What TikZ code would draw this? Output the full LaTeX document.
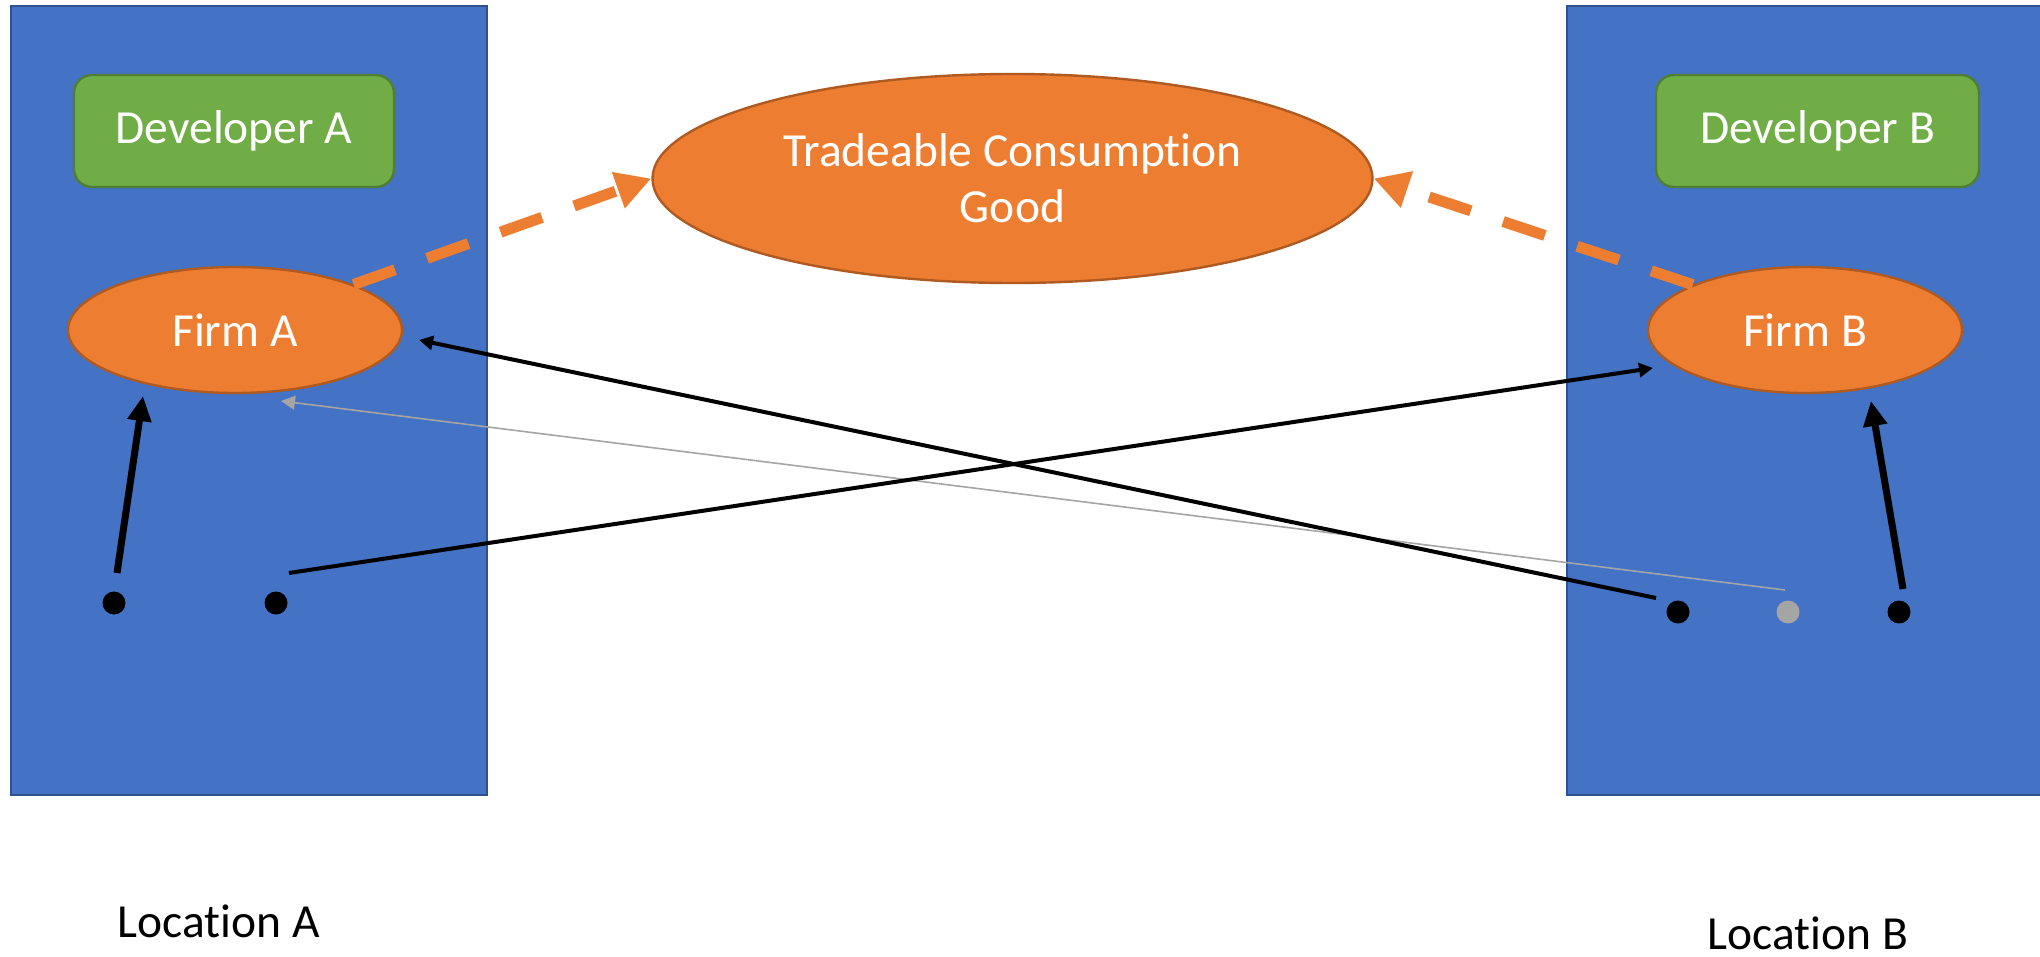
\documentclass[tikz,border=0pt]{standalone}
\usepackage{fontspec}
\setmainfont{Carlito}[Ligatures=NoCommon]
\usetikzlibrary{shapes.geometric,arrows.meta}
\definecolor{locblue}{HTML}{4472C4}
\definecolor{locedge}{HTML}{2F528F}
\definecolor{devgreen}{HTML}{70AD47}
\definecolor{devedge}{HTML}{507E32}
\definecolor{firmorange}{HTML}{ED7D31}
\definecolor{firmedge}{HTML}{AE5A21}
\definecolor{dotgray}{HTML}{A5A5A5}
\tikzset{
  txt/.style={font=\fontsize{23.75}{28}\selectfont},
  locbox/.style={draw=locedge, line width=1pt, fill=locblue, rectangle, inner sep=0pt, minimum height=394.25pt},
  devbox/.style={txt, draw=devedge, line width=1.2pt, fill=devgreen, rounded corners=9pt, text=white, inner sep=0pt, minimum height=56pt},
  firmnode/.style={txt, ellipse, draw=firmedge, line width=1.2pt, fill=firmorange, text=white, inner sep=0pt},
  dotnode/.style={circle, fill=#1, inner sep=0pt, minimum size=11.5pt},
  dashlink/.style={draw=firmorange, line width=5.5pt, dash pattern=on 22pt off 17pt, -{Triangle[length=17.5pt, width=18pt]}},
  thinlink/.style={draw=black, line width=2pt, -{Triangle[length=7pt, width=7pt]}},
  thicklink/.style={draw=black, line width=3.5pt, -{Triangle[length=12.5pt, width=11.5pt]}},
  graylink/.style={draw=dotgray, line width=0.8pt, -{Triangle[length=7pt, width=7pt]}},
}
\begin{document}
\begin{tikzpicture}[x=0.5pt, y=-0.5pt]
\useasboundingbox (0,0) rectangle (2040,957);
\fill[white] (0,0) rectangle (2040,957);
% location panels
\node[locbox, minimum width=238pt] (locA) at (249,400.75) {};
\node[locbox, minimum width=237.5pt] (locB) at (1804.5,400.75) {};
% developers
\node[devbox, minimum width=160pt] (devA) at (234,131) {Developer A};
\node[devbox, minimum width=161.5pt] (devB) at (1817.5,131) {Developer B};
% firms and good
\node[firmnode, minimum width=167pt, minimum height=63pt] (firmA) at (235,330) {Firm A};
\node[firmnode, minimum width=157pt, minimum height=63pt] (firmB) at (1805,330) {Firm B};
\node[firmnode, align=center, minimum width=360pt, minimum height=104.5pt] (trade) at (1012.5,178.5) {Tradeable Consumption\\Good};
% dots
\node[dotnode=black] (dA1) at (114,603) {};
\node[dotnode=black] (dA2) at (276,603) {};
\node[dotnode=black] (dB1) at (1678,612) {};
\node[dotnode=dotgray] (dBg) at (1788,612) {};
\node[dotnode=black] (dB2) at (1899,612) {};
% labels
\node[txt, anchor=base, inner sep=0pt] (labA) at (219,937) {Location A};
\node[txt, anchor=base, inner sep=0pt] (labB) at (1808,949) {Location B};
% connector end points
\coordinate (tA1s) at (117,573);
\coordinate (tA1e) at (143,396);
\coordinate (tA2s) at (289,573);
\coordinate (tA2e) at (1653,368);
\coordinate (tB1s) at (1656,598);
\coordinate (tB1e) at (419,340);
\coordinate (tBgs) at (1785,590);
\coordinate (tBge) at (281,401);
\coordinate (tB2s) at (1903,589);
\coordinate (tB2e) at (1871,401);
% connectors
\draw[dashlink] (firmA.21) -- (trade.west);
\draw[dashlink] (firmB.158) -- (trade.east);
\draw[graylink] (tBgs) -- (tBge);
\draw[thinlink] (tB1s) -- (tB1e);
\draw[thinlink] (tA2s) -- (tA2e);
\draw[thicklink] (tA1s) -- (tA1e);
\draw[thicklink] (tB2s) -- (tB2e);
\end{tikzpicture}
\end{document}
